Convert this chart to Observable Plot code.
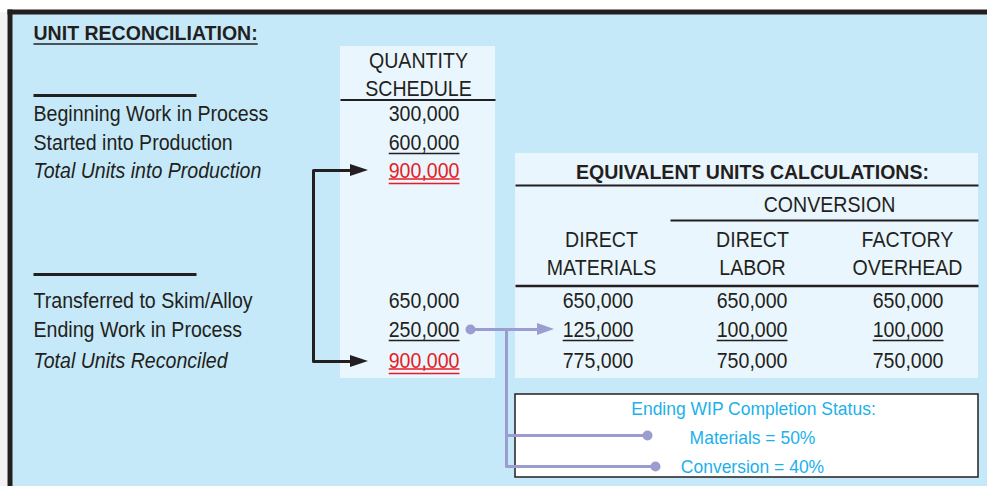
<!DOCTYPE html>
<html><head><meta charset="utf-8">
<script src="https://cdn.jsdelivr.net/npm/d3@7"></script>
<script src="https://cdn.jsdelivr.net/npm/@observablehq/plot@0.6"></script>
<style>body{margin:0;background:#fff}</style>
</head><body><div id="chart"></div>
<script>
// ---------- DATA ----------
const title = "UNIT RECONCILIATION:";
const qsHeader = ["QUANTITY", "SCHEDULE"];
const inLabels = ["Beginning Work in Process", "Started into Production", "Total Units into Production"];
const inValues = [300000, 600000, 900000];
const outLabels = ["Transferred to Skim/Alloy", "Ending Work in Process", "Total Units Reconciled"];
const outValues = [650000, 250000, 900000];
const euTitle = "EQUIVALENT UNITS CALCULATIONS:";
const euGroup = "CONVERSION";
const euColumns = [["DIRECT", "MATERIALS"], ["DIRECT", "LABOR"], ["FACTORY", "OVERHEAD"]];
const euMaterials = [650000, 125000, 775000];
const euLabor = [650000, 100000, 750000];
const euOverhead = [650000, 100000, 750000];
const statusTitle = "Ending WIP Completion Status:";
const statusLines = ["Materials = 50%", "Conversion = 40%"];

// ---------- LAYOUT / STYLE ----------
const W = 987, H = 486;
const FONT = '"Liberation Sans",Arial,sans-serif';
const FS = 22;           // body font size
const K = 0.89;          // horizontal condensing of body text
const KB = 0.93;         // condensing of bold headings
const KC = 0.92;         // condensing of cyan box text
const INK = "#231f20", RED = "#e31e24", PANEL = "#c6e9f9", LIGHT = "#eaf6fd", PURPLE = "#9b9dd0", CYAN = "#1cb1ea";
const L = {
  labelX: 33, qsRight: 459, qsCenter: 418,
  inRows: [113, 142, 170], outRows: [300, 329, 360],
  rowStyle: ["none", "single", "double"],
  euRight: [633, 787, 943], euCenter: [601, 752, 907]
};
const fmt = d3.format(",");
const ctx = document.createElement("canvas").getContext("2d");
function tw(t, size = FS, weight = "normal", k = K) {
  ctx.font = `${weight} ${size}px ${FONT}`;
  return ctx.measureText(t).width * k;
}
function rect(x1, x2, y1, y2, o) { return Plot.rect([{x1, x2, y1, y2}], {x1: "x1", x2: "x2", y1: "y1", y2: "y2", ...o}); }
function seg(x1, y1, x2, y2, o) { return Plot.link([{x1, y1, x2, y2}], {x1: "x1", y1: "y1", x2: "x2", y2: "y2", strokeLinecap: "butt", ...o}); }
function txt(rows, o) { return Plot.text(rows, {x: "x", y: "y", text: "t", fontFamily: FONT, fontSize: FS, fill: INK, lineAnchor: "middle", ...o}); }

const marks = [];
// background panels
marks.push(rect(0, 7, 12, H, {fill: "#f3f3f3"}));
marks.push(rect(12, W, 14, H, {fill: PANEL}));
marks.push(seg(9.5, 9, 9.5, H, {stroke: INK, strokeWidth: 5}));
marks.push(seg(7, 11.5, W, 11.5, {stroke: INK, strokeWidth: 5}));
marks.push(rect(340, 495, 46, 378, {fill: LIGHT}));
marks.push(rect(515, 978, 153, 378, {fill: LIGHT}));
marks.push(rect(515, 978, 394, 477, {fill: "white", stroke: INK, strokeWidth: 1.5}));

// title
marks.push(txt([{x: L.labelX, y: 33, t: title}], {textAnchor: "start", fontWeight: "bold", fontSize: 21}));
marks.push(seg(L.labelX, 43.5, L.labelX + tw(title, 21, "bold", KB), 43.5, {stroke: INK, strokeWidth: 1.5}));
// short section lines
marks.push(seg(33, 95, 196, 95, {stroke: INK, strokeWidth: 3}));
marks.push(seg(33, 274, 196, 274, {stroke: INK, strokeWidth: 3}));

// quantity schedule header
marks.push(txt(qsHeader.map((t, i) => ({x: L.qsCenter, y: [60, 88][i], t})), {textAnchor: "middle"}));
marks.push(seg(340, 99.5, 495, 99.5, {stroke: INK, strokeWidth: 2}));

// row labels
const labelRows = [
  ...inLabels.map((t, i) => ({x: L.labelX, y: L.inRows[i], t, italic: i === 2})),
  ...outLabels.map((t, i) => ({x: L.labelX, y: L.outRows[i], t, italic: i === 2}))
];
marks.push(txt(labelRows.filter(d => !d.italic), {textAnchor: "start"}));
marks.push(txt(labelRows.filter(d => d.italic), {textAnchor: "start", fontStyle: "italic"}));

// numbers with underlines
function numberCell(v, xr, y, style) {
  const t = fmt(v), w = tw(t);
  const color = style === "double" ? RED : INK;
  marks.push(txt([{x: xr, y, t}], {textAnchor: "end", fill: color}));
  if (style === "single") marks.push(seg(xr - w, y + 11, xr, y + 11, {stroke: INK, strokeWidth: 1.5}));
  if (style === "double") {
    marks.push(seg(xr - w, y + 8.5, xr, y + 8.5, {stroke: RED, strokeWidth: 1.5}));
    marks.push(seg(xr - w, y + 13, xr, y + 13, {stroke: RED, strokeWidth: 1.5}));
  }
}
inValues.forEach((v, i) => numberCell(v, L.qsRight, L.inRows[i], L.rowStyle[i]));
outValues.forEach((v, i) => numberCell(v, L.qsRight, L.outRows[i], L.rowStyle[i]));
[euMaterials, euLabor, euOverhead].forEach((col, c) =>
  col.forEach((v, i) => numberCell(v, L.euRight[c], L.outRows[i], i === 1 ? "single" : "none")));

// EU header
marks.push(txt([{x: 752, y: 172, t: euTitle}], {textAnchor: "middle", fontWeight: "bold", fontSize: 21}));
marks.push(seg(515, 185, 978, 185, {stroke: INK, strokeWidth: 2}));
marks.push(txt([{x: 829, y: 204, t: euGroup}], {textAnchor: "middle"}));
marks.push(seg(670, 220, 978, 220, {stroke: INK, strokeWidth: 2}));
marks.push(txt(euColumns.flatMap((lines, c) => lines.map((t, k) => ({x: L.euCenter[c], y: [239, 267][k], t}))), {textAnchor: "middle"}));
marks.push(seg(515, 285.5, 978, 285.5, {stroke: INK, strokeWidth: 2.5}));

// black L-arrow
marks.push(Plot.line([{x: 352, y: 170}, {x: 313, y: 170}, {x: 313, y: 361}, {x: 352, y: 361}], {x: "x", y: "y", stroke: INK, strokeWidth: 3, curve: "linear"}));
const heads = [
  {id: "a", x: 350, y1: 164, y2: 176}, {id: "a", x: 368, y1: 170, y2: 170},
  {id: "b", x: 350, y1: 355, y2: 367}, {id: "b", x: 368, y1: 361, y2: 361},
  {id: "c", x: 537, y1: 323, y2: 335}, {id: "c", x: 554, y1: 329, y2: 329}
];
marks.push(Plot.areaY(heads.filter(d => d.id !== "c"), {x: "x", y1: "y1", y2: "y2", z: "id", fill: INK}));

// purple connectors
marks.push(seg(470, 329, 540, 329, {stroke: PURPLE, strokeWidth: 3}));
marks.push(Plot.line([{x: 506, y: 329}, {x: 506, y: 466}, {x: 655, y: 466}], {x: "x", y: "y", stroke: PURPLE, strokeWidth: 3}));
marks.push(seg(506, 435, 647, 435, {stroke: PURPLE, strokeWidth: 3}));
marks.push(Plot.areaY(heads.filter(d => d.id === "c"), {x: "x", y1: "y1", y2: "y2", z: "id", fill: PURPLE}));
marks.push(Plot.dot([{x: 470, y: 329}, {x: 647, y: 435}, {x: 655, y: 466}], {x: "x", y: "y", r: 5, fill: PURPLE}));

// completion status box text
marks.push(txt([{x: 753, y: 408, t: statusTitle}, ...statusLines.map((t, i) => ({x: 752, y: [437, 466][i], t}))], {textAnchor: "middle", fill: CYAN, fontSize: 19}));

const chart = Plot.plot({
  width: W, height: H, margin: 0,
  x: {domain: [0, W], range: [0, W], axis: null},
  y: {domain: [0, H], range: [0, H], axis: null},
  style: {background: "white", fontFamily: FONT},
  marks
});
document.getElementById("chart").append(chart);

// condense text horizontally (emulating a condensed face)
d3.select(chart).selectAll("text").each(function() {
  const cs = getComputedStyle(this);
  const bold = cs.fontWeight === "700" || cs.fontWeight === "bold";
  const k = bold ? KB : parseFloat(cs.fontSize) < 20 ? KC : K;
  const w = this.getComputedTextLength();
  this.setAttribute("textLength", (w * k).toFixed(2));
  this.setAttribute("lengthAdjust", "spacingAndGlyphs");
});
</script></body></html>
